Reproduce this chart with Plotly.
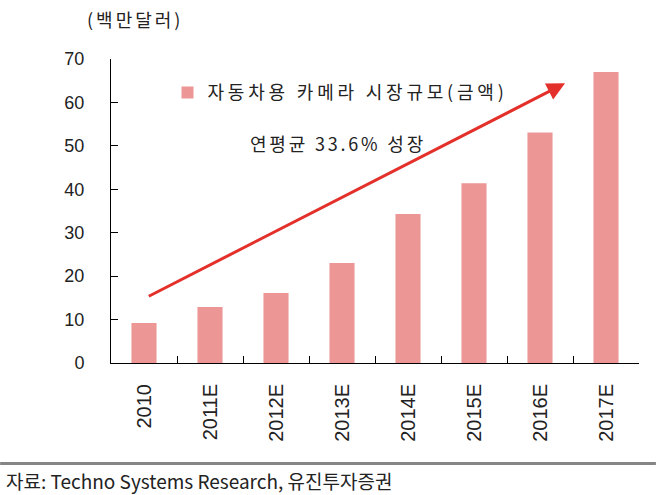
import plotly.graph_objects as go

categories = ["2010", "2011E", "2012E", "2013E", "2014E", "2015E", "2016E", "2017E"]
market_size = [9.2, 12.9, 16.1, 23.0, 34.3, 41.4, 53.1, 67.0]
series_name = "자동차용 카메라 시장규모(금액)"
unit_label = "(백만달러)"
growth_label = "연평균 33.6% 성장"
source_label = "자료: Techno Systems Research, 유진투자증권"
y_ticks = [0, 10, 20, 30, 40, 50, 60, 70]

# trend arrow (category index, value)
arrow_start = (0.05, 15.2)
arrow_end = (6.38, 64.4)

FONT = "Liberation Sans, Noto Sans CJK KR, sans-serif"
KFONT = "Noto Sans CJK KR, Liberation Sans, sans-serif"
BAR = "#EC9696"
TXT = "#222222"


def spaced(s, px):
    return f'<span style="letter-spacing:{px}px">{s}</span>'


fig = go.Figure()
fig.add_trace(go.Bar(
    x=categories, y=market_size, name=spaced(series_name, 3.8),
    marker=dict(color=BAR, line=dict(width=0)), width=0.38,
))

fig.update_layout(
    width=656, height=495,
    margin=dict(l=111, r=17, t=59, b=132),
    paper_bgcolor="white", plot_bgcolor="white",
    font=dict(family=FONT, color=TXT, size=18),
    showlegend=True,
    legend=dict(x=0.107, y=0.95, xanchor="left", yanchor="top",
                bgcolor="rgba(0,0,0,0)", font=dict(family=KFONT, size=18, color=TXT),
                itemwidth=30),
    xaxis=dict(
        type="category", showline=True, linecolor="black", linewidth=1,
        ticks="inside", ticklen=7, tickcolor="black", tickson="boundaries",
        tickangle=-90, tickfont=dict(size=20, color=TXT), ticklabelstandoff=12,
        showgrid=False, zeroline=False,
    ),
    yaxis=dict(
        range=[0, 70], tickvals=y_ticks, showline=True, linecolor="black", linewidth=1,
        ticks="inside", ticklen=7, tickcolor="black", showgrid=False, zeroline=False,
        tickfont=dict(size=18, color=TXT), ticklabelstandoff=22,
    ),
)

fig.add_annotation(
    x=arrow_end[0], y=arrow_end[1], ax=arrow_start[0], ay=arrow_start[1],
    xref="x", yref="y", axref="x", ayref="y", text="", showarrow=True,
    arrowhead=2, arrowsize=1.2, arrowwidth=3, arrowcolor="#E3302A",
)
fig.add_annotation(
    x=0.43, y=0.724, xref="paper", yref="paper", xanchor="center", yanchor="middle",
    text=spaced(growth_label, 2.8), showarrow=False, font=dict(family=KFONT, size=18, color=TXT),
)
fig.add_annotation(
    x=-0.05, y=1.13, xref="paper", yref="paper", xanchor="left", yanchor="middle",
    text=spaced(unit_label, 3), showarrow=False, font=dict(family=KFONT, size=18, color=TXT),
)
fig.add_annotation(
    x=-0.203, y=-0.387, xref="paper", yref="paper", xanchor="left", yanchor="middle",
    text=source_label, showarrow=False, font=dict(family=KFONT, size=19, color=TXT),
)
fig.add_shape(
    type="line", xref="paper", yref="paper", x0=-0.21, x1=1.032, y0=-0.331, y1=-0.331,
    line=dict(color="#858585", width=3),
)

fig.write_html("out.html", config={"displayModeBar": False},
               post_script="document.body.style.margin='0';")
